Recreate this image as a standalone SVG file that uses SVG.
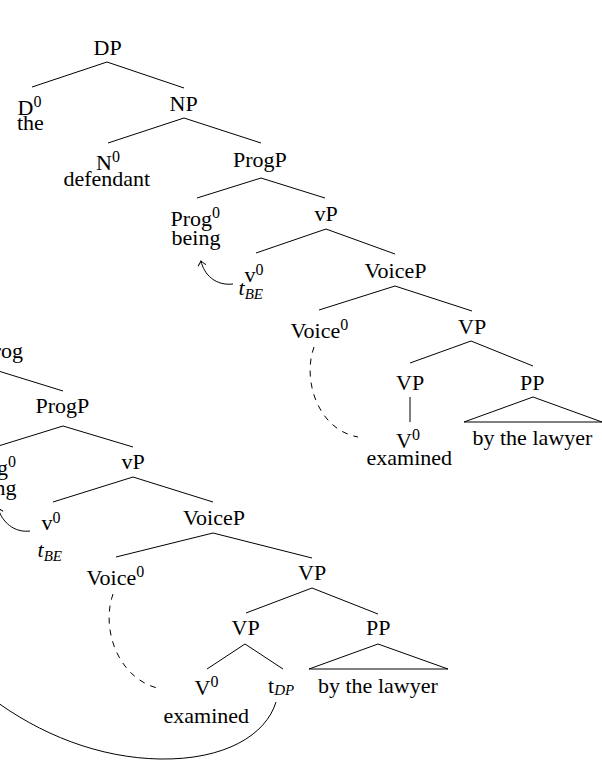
<svg xmlns="http://www.w3.org/2000/svg" width="602" height="762" viewBox="0 0 602 762">
<defs>
<style>
text{font-family:"Liberation Serif","Times New Roman",serif;font-size:22px;fill:#000}
.sup{font-size:16px}
.sub{font-size:15px;font-style:italic}
.it{font-style:italic}
.edge{stroke:#000;stroke-width:1;fill:none}
.dash{stroke:#000;stroke-width:1;fill:none;stroke-dasharray:6 6}
.move{stroke:#000;stroke-width:1;fill:none}
</style>
<marker id="arr" viewBox="-6 -5 8 10" markerWidth="8" markerHeight="10" refX="0" refY="0" orient="auto" markerUnits="userSpaceOnUse">
<path d="M-4.5,-4 Q-1.5,-1 0,0 Q-1.5,1 -4.5,4" fill="none" stroke="#000" stroke-width="1"/>
</marker>
</defs>
<rect width="602" height="762" fill="#fff"/>

<g id="connectors">
<!-- tree 1 -->
<path class="edge" d="M107,62 L32,87 M107,62 L184,88"/>
<path class="edge" d="M184,118 L108,143 M184,118 L261,143"/>
<path class="edge" d="M261,178 L197,198 M261,178 L325,198"/>
<path class="edge" d="M326,229 L256,253 M326,229 L395,254"/>
<path class="edge" d="M395,286 L319,310 M395,286 L472,311"/>
<path class="edge" d="M471,341 L410,363 M471,341 L533,366"/>
<path class="edge" d="M410,397 L410,422"/>
<path class="edge" d="M533,397 L464,422 L602,422 Z"/>
<path class="move" d="M233,284 C216,286 204,275 201,261" marker-end="url(#arr)"/>
<path class="dash" d="M314,347 C302,380 318,430 358,437"/>
<!-- tree 2 -->
<path class="edge" d="M0,371.5 L63,391"/>
<path class="edge" d="M63,426 L0,445.5 M63,426 L133,447"/>
<path class="edge" d="M133,477 L53,502 M133,477 L213,502"/>
<path class="edge" d="M213,533 L116,557 M213,533 L312,558"/>
<path class="edge" d="M312,588 L246,613 M312,588 L378,614"/>
<path class="edge" d="M245,644 L207,669 M245,644 L283,669"/>
<path class="edge" d="M378,644 L309,669 L448,669 Z"/>
<path class="move" d="M30,531 C14,533 2,522 -2,508" marker-end="url(#arr)"/>
<path class="dash" d="M113,594 C101,628 117,677 157,688"/>
<path class="move" d="M276,702 C266,735 225,760 160,759 C100,758 40,735 -10,697"/>
</g>

<!-- tree 1 nodes -->
<g id="t1-DP"><text x="93.5" y="55">DP</text></g>
<g id="t1-D0"><text x="17.5" y="115">D<tspan class="sup" dy="-8">0</tspan></text><text x="17" y="130">the</text></g>
<g id="t1-NP"><text x="169.5" y="111">NP</text></g>
<g id="t1-N0"><text x="96" y="169.5">N<tspan class="sup" dy="-8">0</tspan></text><text x="63.5" y="185.5">defendant</text></g>
<g id="t1-ProgP"><text x="233" y="167">ProgP</text></g>
<g id="t1-Prog0"><text x="170.5" y="225.5">Prog<tspan class="sup" dy="-8">0</tspan></text><text x="171.5" y="244.5">being</text></g>
<g id="t1-vP"><text x="314.5" y="221">vP</text></g>
<g id="t1-v0"><text x="244.5" y="281.5">v<tspan class="sup" dy="-7">0</tspan></text><text x="238.5" y="295"><tspan class="it">t</tspan><tspan class="sub" dy="4">BE</tspan></text></g>
<g id="t1-VoiceP"><text x="364.5" y="277.5">VoiceP</text></g>
<g id="t1-Voice0"><text x="290.5" y="337.5">Voice<tspan class="sup" dy="-8">0</tspan></text></g>
<g id="t1-VP"><text x="458" y="333.5">VP</text></g>
<g id="t1-VP2"><text x="396" y="390">VP</text></g>
<g id="t1-PP"><text x="520" y="390">PP</text></g>
<g id="t1-V0"><text x="396" y="447.5">V<tspan class="sup" dy="-8">0</tspan></text><text x="366.5" y="465">examined</text></g>
<g id="t1-lawyer"><text x="472.5" y="445">by the lawyer</text></g>

<!-- tree 2 nodes -->
<g id="t2-Prog"><text x="23" y="358" text-anchor="end">Prog</text></g>
<g id="t2-ProgP"><text x="35.5" y="412.7">ProgP</text></g>
<g id="t2-Prog0"><text x="-33.5" y="474.5">Prog<tspan class="sup" dy="-8">0</tspan></text><text x="-32.5" y="495">being</text></g>
<g id="t2-vP"><text x="121.5" y="469.3">vP</text></g>
<g id="t2-v0"><text x="41.5" y="530">v<tspan class="sup" dy="-7">0</tspan></text><text x="37.5" y="556.5"><tspan class="it">t</tspan><tspan class="sub" dy="4">BE</tspan></text></g>
<g id="t2-VoiceP"><text x="183" y="525">VoiceP</text></g>
<g id="t2-Voice0"><text x="86.5" y="585">Voice<tspan class="sup" dy="-8">0</tspan></text></g>
<g id="t2-VP"><text x="298" y="580">VP</text></g>
<g id="t2-VP2"><text x="231.5" y="635">VP</text></g>
<g id="t2-PP"><text x="366" y="635">PP</text></g>
<g id="t2-V0"><text x="194.5" y="695">V<tspan class="sup" dy="-8">0</tspan></text><text x="163.5" y="722.5">examined</text></g>
<g id="t2-tDP"><text x="268" y="693">t<tspan class="sub" dy="1.5">DP</tspan></text></g>
<g id="t2-lawyer"><text x="318" y="693.3">by the lawyer</text></g>
</svg>
